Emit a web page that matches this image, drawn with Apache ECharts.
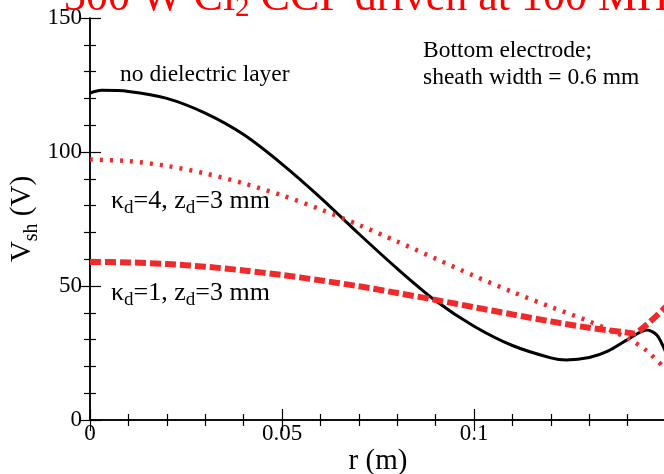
<!DOCTYPE html>
<html>
<head>
<meta charset="utf-8">
<script src="https://cdn.jsdelivr.net/npm/echarts@6/dist/echarts.min.js"></script>
<style>html,body{margin:0;padding:0;background:#fff;}#c{width:664px;height:474px;}</style>
</head>
<body>
<div id="c"></div>
<script>
// ---- data ----
const xTickLabels = ['0', '0.05', '0.1', ''];
const yTickLabels = ['0', '50', '100', '150'];

const rNoDiel = [0, 0.003, 0.01, 0.02, 0.03, 0.04, 0.05, 0.06, 0.07, 0.08, 0.09, 0.1, 0.11, 0.12, 0.124, 0.13, 0.135, 0.14, 0.145, 0.1476, 0.15];
const vNoDiel = [122, 123, 122.6, 120, 114.5, 106.5, 95.5, 83, 69.5, 56.5, 44.5, 35, 27.8, 23.2, 22.4, 23.3, 25.8, 30, 33.6, 31.7, 25];

const rK4 = [0, 0.01, 0.02, 0.03, 0.04, 0.05, 0.06, 0.07, 0.08, 0.09, 0.1, 0.11, 0.12, 0.13, 0.14, 0.145, 0.15];
const vK4 = [97.2, 96.6, 94.8, 92, 88.3, 83.8, 78.6, 72.8, 66.6, 60.2, 53.8, 47.8, 42.2, 36.8, 30.5, 25.8, 18.8];

const rK1 = [0, 0.01, 0.02, 0.03, 0.04, 0.05, 0.06, 0.07, 0.08, 0.09, 0.1, 0.11, 0.12, 0.13, 0.14, 0.1414, 0.145, 0.15];
const vK1 = [59, 58.8, 58.2, 57.2, 55.8, 54.1, 52.1, 49.9, 47.4, 44.8, 42.1, 39.4, 36.8, 34.4, 32.6, 32.3, 35.6, 42.3];

const pair = (xs, ys) => xs.map((x, i) => [x, ys[i]]);

const FONT = "'Liberation Serif', 'Times New Roman', serif";
const RED = '#f02a2a';

function tickFmt(labels, step) {
  return v => { const i = Math.round(v / step); return labels[i] !== undefined ? labels[i] : ''; };
}

const axisCommon = {
  axisLine: { show: true, lineStyle: { color: '#000', width: 1.5 } },
  axisTick: { show: true, inside: true, length: 11, lineStyle: { color: '#000', width: 1.2 } },
  minorTick: { show: true, splitNumber: 5, length: 6, lineStyle: { color: '#000', width: 1.2 } },
  splitLine: { show: false },
  minorSplitLine: { show: false }
};

const chart = echarts.init(document.getElementById('c'), null, { renderer: 'canvas' });
chart.setOption({
  animation: false,
  backgroundColor: '#fff',
  grid: { left: 90, right: -2, top: 18, bottom: 54, containLabel: false, outerBoundsMode: 'none' },
  xAxis: [
    Object.assign({
      type: 'value', min: 0, max: 0.15, interval: 0.05, position: 'bottom',
      name: 'r (m)', nameLocation: 'middle', nameGap: 27, nameMoveOverlap: false,
      nameTextStyle: { fontFamily: FONT, fontSize: 29, color: '#000' },
      axisLabel: { show: true, formatter: tickFmt(xTickLabels, 0.05), fontFamily: FONT, fontSize: 23, color: '#000', margin: 2 }
    }, axisCommon),
    Object.assign({
      type: 'value', min: 0, max: 0.15, interval: 0.05, position: 'top',
      axisLabel: { show: false }
    }, axisCommon)
  ],
  yAxis: [
    Object.assign({
      type: 'value', min: 0, max: 150, interval: 50, position: 'left',
      name: '{m|V}{s|sh}{m| (V)}', nameLocation: 'middle', nameGap: 48, nameRotate: 90, nameMoveOverlap: false,
      nameTextStyle: {
        fontFamily: FONT, color: '#000',
        rich: {
          m: { fontFamily: FONT, fontSize: 29, color: '#000' },
          s: { fontFamily: FONT, fontSize: 20, color: '#000', padding: [19, 0, 0, 0] }
        }
      },
      axisLabel: { show: true, formatter: tickFmt(yTickLabels, 50), fontFamily: FONT, fontSize: 23, color: '#000', margin: 8 }
    }, axisCommon),
    Object.assign({
      type: 'value', min: 0, max: 150, interval: 50, position: 'right',
      axisLabel: { show: false }
    }, axisCommon)
  ],
  series: [
    {
      type: 'line', name: 'no dielectric layer', data: pair(rNoDiel, vNoDiel),
      smooth: 0.3, showSymbol: false, clip: true,
      lineStyle: { color: '#000', width: 3 }
    },
    {
      type: 'line', name: 'kd=4', data: pair(rK4, vK4),
      smooth: 0.3, showSymbol: false, clip: true,
      lineStyle: { color: RED, width: 4.5, type: [3, 7] }
    },
    {
      type: 'line', name: 'kd=1', data: pair(rK1, vK1),
      smooth: 0.3, showSymbol: false, clip: true,
      lineStyle: { color: RED, width: 6, type: [11, 4] }
    }
  ],
  graphic: [
    {
      type: 'text', z: 10, x: 64, y: -1.5,
      style: {
        text: '{m|300 W Cl}{s|2}{m| CCP driven at 100 MHz}',
        verticalAlign: 'middle', align: 'left',
        rich: {
          m: { fontFamily: FONT, fontSize: 44, fill: '#ff0000' },
          s: { fontFamily: FONT, fontSize: 29, fill: '#ff0000', padding: [20, 0, 0, 0] }
        }
      }
    },
    {
      type: 'text', x: 120, y: 74.5, z: 10,
      style: { text: 'no dielectric layer', font: "23.5px " + FONT, fill: '#000', verticalAlign: 'middle', align: 'left' }
    },
    {
      type: 'text', x: 423, y: 50.5, z: 10,
      style: { text: 'Bottom electrode;', font: "23.5px " + FONT, fill: '#000', verticalAlign: 'middle', align: 'left' }
    },
    {
      type: 'text', x: 423, y: 77.5, z: 10,
      style: { text: 'sheath width = 0.6 mm', font: "23.5px " + FONT, fill: '#000', verticalAlign: 'middle', align: 'left' }
    },
    {
      type: 'text', x: 111, y: 201, z: 10,
      style: {
        text: '{m|κ}{s|d}{m|=4, z}{s|d}{m|=3 mm}',
        verticalAlign: 'middle', align: 'left',
        rich: {
          m: { fontFamily: FONT, fontSize: 26, fill: '#000' },
          s: { fontFamily: FONT, fontSize: 19, fill: '#000', padding: [15, 0, 0, 0] }
        }
      }
    },
    {
      type: 'text', x: 111, y: 293, z: 10,
      style: {
        text: '{m|κ}{s|d}{m|=1, z}{s|d}{m|=3 mm}',
        verticalAlign: 'middle', align: 'left',
        rich: {
          m: { fontFamily: FONT, fontSize: 26, fill: '#000' },
          s: { fontFamily: FONT, fontSize: 19, fill: '#000', padding: [15, 0, 0, 0] }
        }
      }
    }
  ]
});
</script>
</body>
</html>
